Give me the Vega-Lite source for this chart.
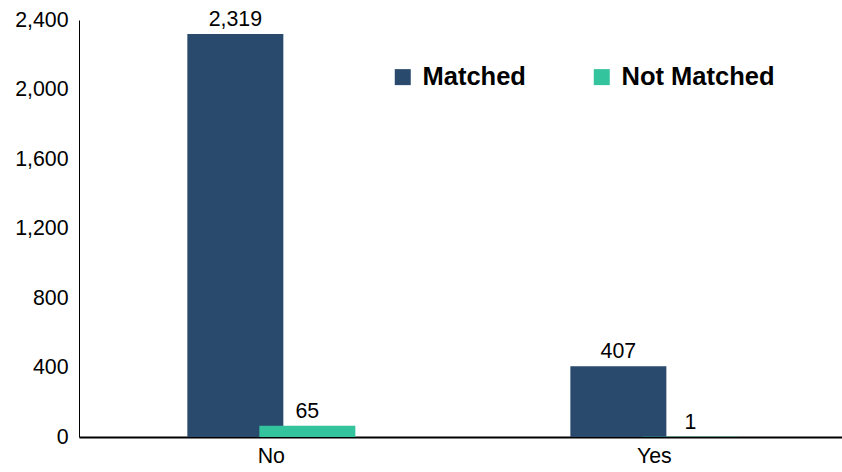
{
  "$schema": "https://vega.github.io/schema/vega-lite/v6.json",
  "width": 763,
  "height": 417,
  "autosize": {"type": "none"},
  "padding": {"left": 79, "top": 20, "right": 0, "bottom": 35},
  "data": {"values": [
    {"group": "No", "status": "Matched", "value": 2319},
    {"group": "Yes", "status": "Matched", "value": 407},
    {"group": "No", "status": "Not Matched", "value": 65},
    {"group": "Yes", "status": "Not Matched", "value": 1}
  ]},
  "encoding": {
    "x": {
      "field": "group", "type": "nominal", "sort": ["No", "Yes"],
      "scale": {"paddingInner": 0.624, "paddingOuter": 0.308, "align": 0.51},
      "axis": {"title": null, "ticks": false, "labelAngle": 0, "domainColor": "#000000", "domainWidth": 2,
               "labelFontSize": 21.33, "labelFont": "Liberation Sans", "labelColor": "#000000", "labelPadding": 8}
    },
    "xOffset": {
      "field": "status", "type": "nominal", "sort": ["Matched", "Not Matched"],
      "scale": {"paddingInner": 0, "paddingOuter": 0}
    },
    "y": {
      "field": "value", "type": "quantitative",
      "scale": {"domain": [0, 2400], "nice": false},
      "axis": {"title": null, "ticks": false, "tickSize": 0, "values": [0, 400, 800, 1200, 1600, 2000, 2400], "format": ",d",
               "domainColor": "#000000", "domainWidth": 1, "grid": false,
               "labelFontSize": 21.33, "labelFont": "Liberation Sans", "labelColor": "#000000", "labelPadding": 11}
    }
  },
  "layer": [
    {
      "mark": {"type": "bar", "width": 96},
      "encoding": {
        "color": {
          "field": "status", "type": "nominal", "sort": ["Matched", "Not Matched"],
          "scale": {"domain": ["Matched", "Not Matched"], "range": ["#294a6d", "#33c49d"]},
          "legend": {"orient": "none", "legendX": 311, "legendY": 44, "direction": "horizontal", "title": null,
                     "symbolType": "square", "symbolSize": 256, "symbolStrokeWidth": 0,
                     "labelFontSize": 25.5, "labelFont": "Liberation Sans", "labelFontWeight": "bold", "labelColor": "#000000",
                     "columnPadding": 63, "labelOffset": 7}
        }
      }
    },
    {
      "mark": {"type": "text", "dy": -8, "baseline": "alphabetic", "fontSize": 21.33, "font": "Liberation Sans", "color": "#000000"},
      "encoding": {"text": {"field": "value", "type": "quantitative", "format": ",d"}}
    }
  ],
  "config": {"view": {"stroke": null}, "axis": {"grid": false}}
}
